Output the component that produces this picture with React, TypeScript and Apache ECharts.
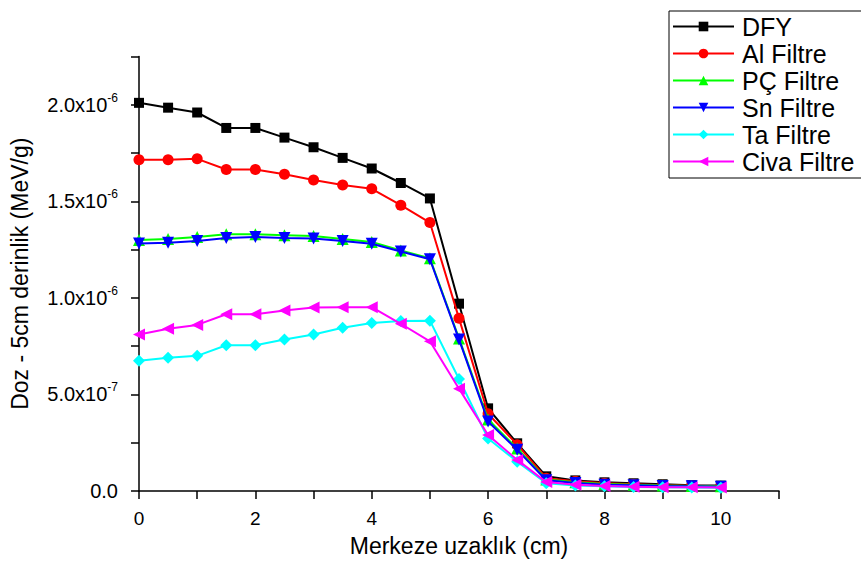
import React, { useEffect, useRef } from "react";
import * as echarts from "echarts";

const xValues = [0, 0.5, 1, 1.5, 2, 2.5, 3, 3.5, 4, 4.5, 5, 5.5, 6, 6.5, 7, 7.5, 8, 8.5, 9, 9.5, 10];

// values in units of 1e-6 MeV/g
const dfy = [2.01, 1.985, 1.96, 1.88, 1.88, 1.83, 1.78, 1.725, 1.67, 1.595, 1.515, 0.97, 0.428, 0.247, 0.076, 0.055, 0.045, 0.04, 0.035, 0.03, 0.028];
const alF = [1.715, 1.715, 1.72, 1.665, 1.665, 1.64, 1.61, 1.585, 1.565, 1.48, 1.39, 0.894, 0.4, 0.24, 0.066, 0.05, 0.04, 0.035, 0.03, 0.027, 0.024];
const pcF = [1.3, 1.305, 1.315, 1.33, 1.33, 1.325, 1.32, 1.305, 1.29, 1.245, 1.205, 0.79, 0.37, 0.22, 0.06, 0.045, 0.036, 0.032, 0.028, 0.026, 0.024];
const snF = [1.282, 1.285, 1.295, 1.31, 1.315, 1.31, 1.308, 1.295, 1.28, 1.24, 1.2, 0.785, 0.36, 0.213, 0.056, 0.042, 0.033, 0.03, 0.026, 0.024, 0.022];
const taF = [0.675, 0.69, 0.7, 0.755, 0.755, 0.785, 0.81, 0.845, 0.87, 0.88, 0.882, 0.58, 0.272, 0.152, 0.04, 0.028, 0.024, 0.021, 0.019, 0.018, 0.017];
const civaF = [0.81, 0.84, 0.86, 0.915, 0.915, 0.935, 0.95, 0.952, 0.952, 0.866, 0.775, 0.53, 0.29, 0.161, 0.046, 0.032, 0.026, 0.022, 0.02, 0.019, 0.018];

const seriesNames = ["DFY", "Al Filtre", "PÇ Filtre", "Sn Filtre", "Ta Filtre", "Civa Filtre"];
const seriesValues = [dfy, alF, pcF, snF, taF, civaF];
const seriesColors = ["#000000", "#ff0000", "#00ff00", "#0000ff", "#00ffff", "#ff00ff"];
const seriesSymbols = ["rect", "circle", "triangle", "triangle", "diamond", "triangle"];
const seriesRotate = [0, 0, 0, 180, 0, 90];
const seriesSymbolSize = [10, 11, 12, 12, 12, 12];

const yTickLabels: Record<number, string> = {
  0: "0.0",
  2: "{a|5.0x10}{s|-7}",
  4: "{a|1.0x10}{s|-6}",
  6: "{a|1.5x10}{s|-6}",
  8: "{a|2.0x10}{s|-6}",
};
const xTickLabels = ["0", "", "2", "", "4", "", "6", "", "8", "", "10", ""];

const FONT = "'Liberation Sans', Arial, sans-serif";

export default function App() {
  const ref = useRef<HTMLDivElement>(null);
  useEffect(() => {
    if (!ref.current) return;
    document.body.style.margin = "0";
    document.body.style.overflow = "hidden";
    const chart = echarts.init(ref.current, null, { renderer: "svg" });
    const option: any = {
      animation: false,
      backgroundColor: "#ffffff",
      textStyle: { fontFamily: FONT },
      grid: { left: 137, right: 82, top: 56.5, bottom: 56, containLabel: false },
      legend: {
        orient: "vertical",
        left: 669,
        top: 11,
        padding: [3, 40, 4, 3],
        itemWidth: 61,
        itemHeight: 12,
        itemGap: 2,
        borderColor: "#000",
        borderWidth: 1,
        borderRadius: 0,
        textStyle: { fontSize: 25, lineHeight: 24, color: "#000", fontFamily: FONT, padding: [0, 0, 0, 3] },
        data: seriesNames,
      },
      xAxis: {
        type: "value",
        min: 0,
        max: 11,
        interval: 1,
        name: "Merkeze uzaklık (cm)",
        nameLocation: "middle",
        nameGap: 43,
        nameTextStyle: { fontSize: 23, color: "#000", fontFamily: FONT },
        axisLine: { onZero: false, lineStyle: { color: "#000", width: 1.5 } },
        axisTick: { show: true, inside: false, length: 8, lineStyle: { color: "#000", width: 1.5 } },
        axisLabel: {
          fontSize: 19,
          color: "#000",
          margin: 18,
          fontFamily: FONT,
          formatter: (v: number) => xTickLabels[Math.round(v)] ?? "",
        },
        splitLine: { show: false },
      },
      yAxis: {
        type: "value",
        min: 0,
        max: 2.25,
        interval: 0.25,
        name: "Doz - 5cm derinlik (MeV/g)",
        nameLocation: "middle",
        nameGap: 108,
        nameTextStyle: { fontSize: 23, color: "#000", fontFamily: FONT },
        axisLine: { show: true, lineStyle: { color: "#000", width: 1.5 } },
        axisTick: { show: true, inside: false, length: 8, lineStyle: { color: "#000", width: 1.5 } },
        axisLabel: {
          color: "#000",
          fontSize: 20,
          margin: 21,
          fontFamily: FONT,
          formatter: (v: number) => {
            const idx = Math.round(v / 0.25);
            return yTickLabels[idx] ?? "";
          },
          rich: {
            a: { fontSize: 20, color: "#000", fontFamily: FONT },
            s: { fontSize: 12, color: "#000", fontFamily: FONT, padding: [0, 0, 14, 0] },
          },
        },
        splitLine: { show: false },
      },
      series: seriesNames.map((name, i) => ({
        name,
        type: "line",
        data: xValues.map((x, j) => [x, seriesValues[i][j]]),
        symbol: seriesSymbols[i],
        symbolRotate: seriesRotate[i],
        symbolSize: seriesSymbolSize[i],
        showAllSymbol: true,
        color: seriesColors[i],
        itemStyle: { color: seriesColors[i] },
        lineStyle: { color: seriesColors[i], width: 2 },
        z: 2 + i,
      })),
    };
    chart.setOption(option);
    return () => chart.dispose();
  }, []);
  return <div ref={ref} style={{ width: 861, height: 562 }} />;
}
